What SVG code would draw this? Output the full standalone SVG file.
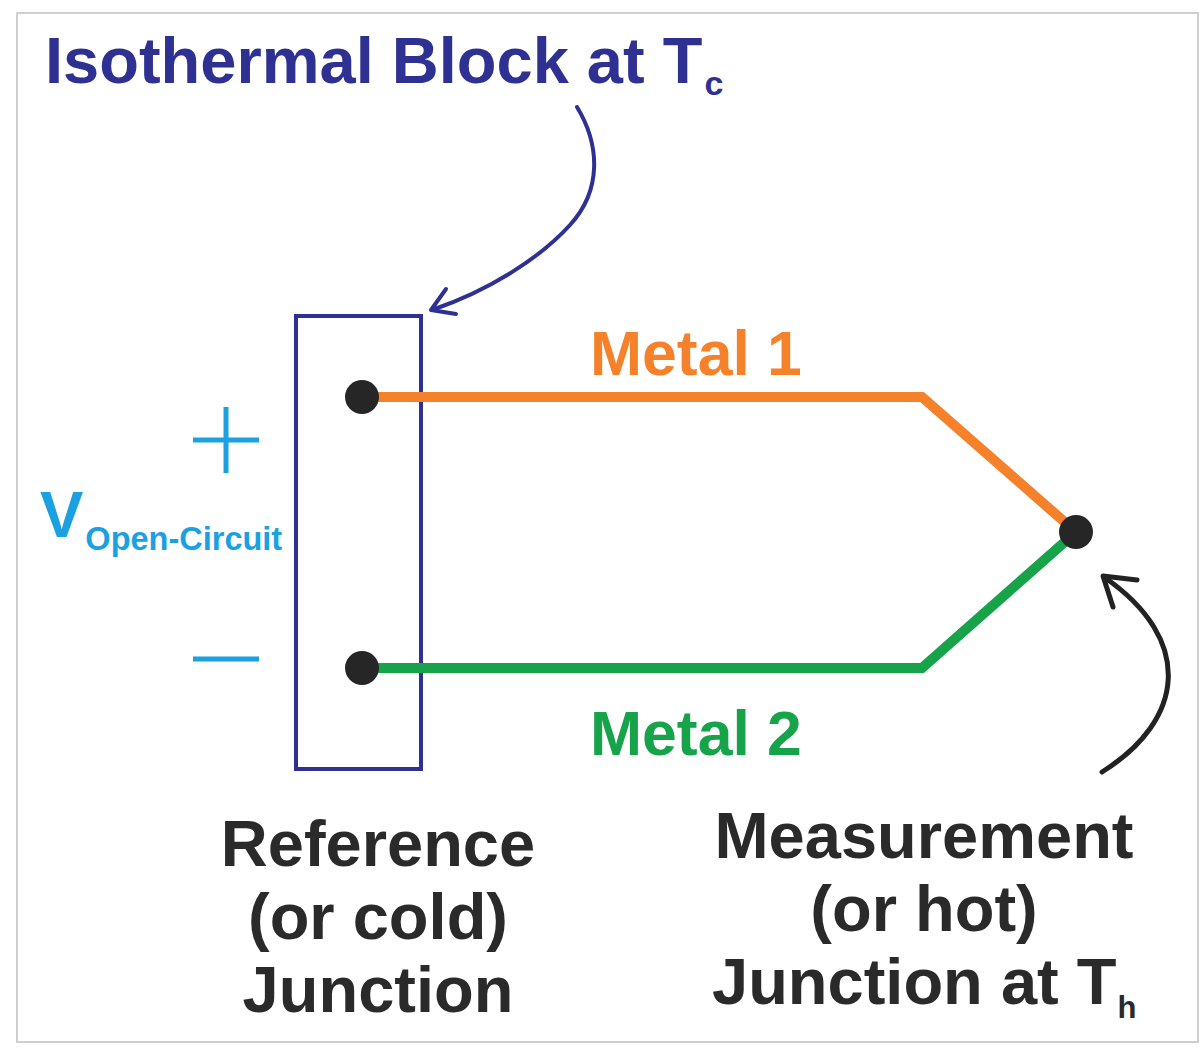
<svg xmlns="http://www.w3.org/2000/svg" width="1204" height="1054" viewBox="0 0 1204 1054">
<style>
  text { font-family: "Liberation Sans", Arial, sans-serif; font-weight: bold; }
  .title { fill: #2E3192; font-size: 65px; }
  .vlab { fill: #1BA1E2; }
  .lab { fill: #2a2a2a; font-size: 65px; text-anchor: middle; }
  .sign { stroke: #1BA1E2; stroke-width: 5; fill: none; }
  .dot { fill: #262626; }
</style>
<rect x="0" y="0" width="1204" height="1054" fill="#ffffff"/>
<rect x="17" y="13" width="1181" height="1029" fill="#ffffff" stroke="#cfcfcf" stroke-width="2"/>

<g id="title">
  <text class="title" x="45" y="83">Isothermal Block at T<tspan font-size="34" dy="12" dx="2">c</tspan></text>
</g>

<g id="isothermal-block">
  <rect x="296" y="316" width="125" height="453" fill="none" stroke="#2E3192" stroke-width="4"/>
</g>

<g id="voltage">
  <line class="sign" x1="193" y1="440" x2="259" y2="440"/>
  <line class="sign" x1="226" y1="407" x2="226" y2="473"/>
  <line class="sign" x1="193" y1="659" x2="259" y2="659"/>
  <text class="vlab" x="40" y="537" font-size="65">V<tspan font-size="32.5" dy="13" dx="2">Open-Circuit</tspan></text>
</g>

<g id="wires">
  <polyline points="362,397 922,397 1076,532" fill="none" stroke="#F5822A" stroke-width="10" stroke-linejoin="miter"/>
  <polyline points="362,668 922,668 1076,532" fill="none" stroke="#16A34A" stroke-width="10" stroke-linejoin="miter"/>
</g>

<g id="metal1-label">
  <text x="590" y="375" font-size="62.5" fill="#F5822A">Metal 1</text>
</g>
<g id="metal2-label">
  <text x="590" y="755" font-size="62.5" fill="#16A34A">Metal 2</text>
</g>

<g id="ref-junction">
  <circle class="dot" cx="362" cy="397" r="17"/>
  <circle class="dot" cx="362" cy="668" r="17"/>
</g>
<g id="hot-junction">
  <circle class="dot" cx="1076" cy="532" r="17"/>
</g>

<g id="connectors" fill="none" stroke-linecap="round" stroke-linejoin="round">
  <path d="M577,107 C600,145 602,190 570,225 C540,258 490,290 432,310" stroke="#2E3192" stroke-width="4"/>
  <polyline points="446,289 431,310 456,314" stroke="#2E3192" stroke-width="4"/>
  <path d="M1102,772 C1185,720 1195,640 1104,577" stroke="#222222" stroke-width="5"/>
  <polyline points="1137,580 1103,576 1113,607" stroke="#222222" stroke-width="5"/>
</g>

<g id="ref-label">
  <text class="lab" x="378" y="866">Reference</text>
  <text class="lab" x="378" y="939">(or cold)</text>
  <text class="lab" x="378" y="1012">Junction</text>
</g>
<g id="meas-label">
  <text class="lab" x="924" y="858">Measurement</text>
  <text class="lab" x="924" y="931">(or hot)</text>
  <text x="712" y="1004" font-size="65" fill="#2a2a2a">Junction at T<tspan font-size="31" dy="14" dx="1">h</tspan></text>
</g>
</svg>
